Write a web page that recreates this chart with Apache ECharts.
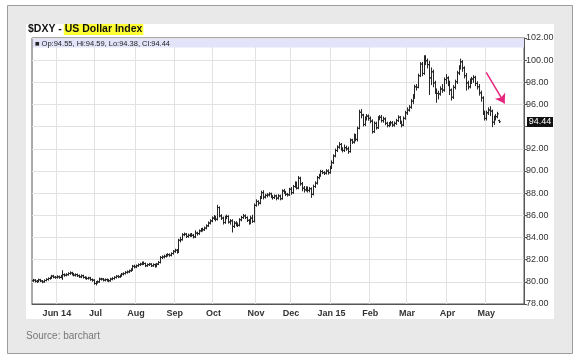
<!DOCTYPE html>
<html><head><meta charset="utf-8">
<script src="https://cdn.jsdelivr.net/npm/echarts@6/dist/echarts.min.js"></script>
<style>html,body{margin:0;padding:0;background:#fff}#c{width:582px;height:361px}</style>
</head><body><div id="c"></div>
<script>
// ---- data ----
const startDate = '2014-05-13';
const holidays = ['2014-05-26','2014-07-04','2014-09-01','2014-11-27','2014-12-25','2015-01-01','2015-04-03'];
const padDays = 13;
const monthLabels = ['Jun 14','Jul','Aug','Sep','Oct','Nov','Dec','Jan 15','Feb','Mar','Apr','May'];
const yMin = 78, yMax = 102, yStep = 2;
// daily bars: [open, close, low, high]
const ohlc = [
// May 2014 (13)
[80.10,80.15,80.02,80.22],[80.15,80.05,79.98,80.20],[80.05,80.03,79.94,80.12],[80.03,80.18,80.00,80.25],
[80.18,80.08,80.02,80.22],[80.08,80.00,79.92,80.12],[80.00,80.12,79.96,80.18],[80.12,80.22,80.08,80.28],
[80.22,80.30,80.15,80.36],[80.30,80.35,80.24,80.42],[80.35,80.52,80.30,80.58],[80.52,80.42,80.36,80.58],
[80.42,80.40,80.32,80.48],
// Jun 2014 (21)
[80.40,80.45,80.34,80.55],[80.45,80.40,80.32,80.52],[80.40,80.50,80.36,80.58],[80.50,80.65,80.22,81.00],
[80.65,80.60,80.50,80.72],[80.60,80.65,80.54,80.74],[80.65,80.75,80.60,80.82],[80.75,80.80,80.68,80.90],
[80.80,80.70,80.62,80.86],[80.70,80.60,80.54,80.76],[80.60,80.65,80.52,80.72],[80.65,80.55,80.48,80.70],
[80.55,80.45,80.40,80.62],[80.45,80.55,80.38,80.62],[80.55,80.40,80.34,80.60],[80.40,80.35,80.28,80.46],
[80.35,80.30,80.22,80.42],[80.30,80.35,80.24,80.42],[80.35,80.20,80.14,80.40],[80.20,80.15,80.06,80.26],
[80.15,79.85,79.78,80.20],
// Jul 2014 (22)
[79.85,79.95,79.72,80.02],[79.95,80.00,79.88,80.08],[80.00,80.25,79.96,80.34],[80.25,80.25,80.16,80.32],
[80.25,80.15,80.08,80.30],[80.15,80.20,80.08,80.26],[80.20,80.15,80.06,80.26],[80.15,80.10,80.02,80.20],
[80.10,80.25,80.06,80.32],[80.25,80.30,80.18,80.38],[80.30,80.40,80.24,80.46],[80.40,80.50,80.34,80.56],
[80.50,80.45,80.38,80.56],[80.45,80.55,80.40,80.62],[80.55,80.70,80.50,80.76],[80.70,80.75,80.62,80.82],
[80.75,80.85,80.70,80.92],[80.85,80.90,80.78,80.98],[80.90,81.00,80.84,81.06],[81.00,81.10,80.94,81.18],
[81.10,81.40,81.04,81.48],[81.40,81.35,81.26,81.50],
// Aug 2014 (21)
[81.35,81.45,81.28,81.52],[81.45,81.55,81.40,81.62],[81.55,81.60,81.48,81.68],[81.60,81.70,81.54,81.78],
[81.70,81.65,81.56,81.80],[81.65,81.45,81.38,81.70],[81.45,81.55,81.40,81.62],[81.55,81.60,81.48,81.66],
[81.60,81.45,81.38,81.64],[81.45,81.55,81.40,81.62],[81.55,81.40,81.32,81.60],[81.40,81.60,81.36,81.66],
[81.60,81.75,81.55,81.84],[81.75,82.20,81.70,82.28],[82.20,82.25,82.10,82.34],[82.25,82.30,82.16,82.40],
[82.30,82.40,82.24,82.48],[82.40,82.45,82.32,82.54],[82.45,82.40,82.30,82.52],[82.40,82.55,82.34,82.62],
[82.55,82.75,82.50,82.82],
// Sep 2014 (21)
[82.75,82.85,82.66,82.94],[82.85,82.70,82.58,82.92],[82.70,83.75,82.64,83.84],[83.75,83.80,83.60,84.02],
[83.80,84.25,83.76,84.34],[84.25,84.30,84.16,84.40],[84.30,84.10,84.00,84.36],[84.10,84.20,84.02,84.30],
[84.20,84.25,84.10,84.34],[84.25,84.20,84.10,84.36],[84.20,84.05,83.96,84.28],[84.05,84.40,84.00,84.60],
[84.40,84.35,84.22,84.48],[84.35,84.60,84.28,84.68],[84.60,84.75,84.52,84.82],[84.75,84.70,84.58,84.84],
[84.70,84.85,84.64,84.94],[84.85,85.05,84.78,85.14],[85.05,85.30,85.00,85.40],[85.30,85.50,85.22,85.60],
[85.50,85.75,85.42,85.86],
// Oct 2014 (23)
[85.75,85.85,85.62,85.98],[85.85,85.65,85.50,85.92],[85.65,86.70,85.58,86.90],[86.70,85.95,85.86,86.76],
[85.95,85.75,85.62,86.06],[85.75,85.35,85.22,85.84],[85.35,85.80,85.28,85.92],[85.80,85.90,85.70,86.02],
[85.90,85.40,85.30,85.96],[85.40,85.50,85.20,85.62],[85.50,85.00,84.50,85.60],[85.00,85.30,84.90,85.44],
[85.30,85.20,85.06,85.42],[85.20,85.10,84.98,85.30],[85.10,85.60,85.04,85.70],[85.60,85.80,85.50,85.90],
[85.80,85.95,85.72,86.08],[85.95,85.80,85.70,86.04],[85.80,85.55,85.44,85.86],[85.55,85.30,85.20,85.62],
[85.30,85.75,85.24,85.92],[85.75,85.45,85.36,86.00],[85.45,86.90,85.40,87.02],
// Nov 2014 (19)
[86.90,87.25,86.82,87.40],[87.25,87.10,86.92,87.32],[87.10,87.60,87.04,87.70],[87.60,88.05,87.52,88.18],
[88.05,87.65,87.48,88.22],[87.65,87.80,87.56,87.90],[87.80,87.85,87.66,87.96],[87.85,87.95,87.74,88.04],
[87.95,87.70,87.60,88.00],[87.70,87.60,87.46,87.78],[87.60,87.75,87.52,87.84],[87.75,87.55,87.40,87.82],
[87.55,87.75,87.46,87.86],[87.75,87.50,87.40,87.82],[87.50,88.20,87.46,88.30],[88.20,88.10,87.98,88.34],
[88.10,87.90,87.78,88.16],[87.90,87.85,87.74,87.98],[87.85,88.35,87.80,88.44],
// Dec 2014 (22)
[88.35,88.05,87.90,88.50],[88.05,88.60,87.98,88.70],[88.60,88.90,88.52,89.02],[88.90,88.45,88.38,89.00],
[88.45,89.35,88.40,89.50],[89.35,88.85,88.72,89.44],[88.85,88.45,88.22,88.96],[88.45,88.30,88.10,88.60],
[88.30,88.45,88.20,88.58],[88.45,88.25,88.10,88.56],[88.25,88.40,88.12,88.52],[88.40,87.90,87.62,88.48],
[87.90,88.60,87.84,88.72],[88.60,88.90,88.52,89.02],[88.90,89.40,88.82,89.50],[89.40,89.60,89.30,89.70],
[89.60,89.95,89.52,90.06],[89.95,89.85,89.76,90.04],[89.85,89.80,89.68,89.94],[89.80,90.00,89.72,90.12],
[90.00,89.85,89.72,90.10],[89.85,90.30,89.80,90.42],
// Jan 2015 (21)
[90.30,90.75,90.22,90.92],[90.75,91.35,90.68,91.46],[91.35,91.85,91.28,91.98],[91.85,92.15,91.76,92.28],
[92.15,92.40,92.06,92.56],[92.40,92.00,91.88,92.48],[92.00,91.85,91.72,92.10],[91.85,92.10,91.76,92.34],
[92.10,92.00,91.86,92.24],[92.00,91.75,91.60,92.16],[91.75,92.80,91.70,92.90],[92.80,92.60,92.48,92.86],
[92.60,93.20,92.52,93.34],[93.20,92.85,92.72,93.30],[92.85,93.85,92.70,93.96],[93.85,95.30,93.80,95.48],
[95.30,95.05,94.80,95.54],[95.05,94.20,94.06,95.12],[94.20,94.75,94.10,94.88],[94.75,94.95,94.60,95.10],
[94.95,94.75,94.58,95.06],
// Feb 2015 (20)
[94.75,94.50,94.36,94.88],[94.50,93.55,93.42,94.62],[93.55,94.30,93.48,94.44],[94.30,93.90,93.78,94.40],
[93.90,94.75,93.84,94.90],[94.75,94.85,94.62,95.00],[94.85,94.55,94.42,95.02],[94.55,94.70,94.40,94.86],
[94.70,94.30,94.18,94.80],[94.30,94.10,93.98,94.40],[94.10,94.25,94.00,94.38],[94.25,94.35,94.12,94.48],
[94.35,94.15,94.02,94.46],[94.15,94.30,94.04,94.42],[94.30,94.55,94.20,94.66],[94.55,94.85,94.46,94.98],
[94.85,94.40,94.28,94.92],[94.40,94.15,93.98,94.50],[94.15,94.75,94.08,94.88],[94.75,95.25,94.66,95.38],
// Mar 2015 (22)
[95.25,95.50,95.10,95.70],[95.50,95.75,95.40,95.90],[95.75,96.30,95.66,96.46],[96.30,96.65,96.10,96.90],
[96.65,97.60,96.55,97.74],[97.60,97.55,97.30,97.80],[97.55,98.60,97.50,98.74],[98.60,99.65,98.52,99.78],
[99.65,98.80,98.60,99.80],[98.80,100.25,98.72,100.40],[100.25,99.95,99.60,100.40],[99.95,99.60,99.30,100.10],
[99.60,98.40,96.90,99.90],[98.40,98.95,97.80,99.30],[98.95,97.95,97.60,99.10],[97.95,97.25,97.00,98.10],
[97.25,97.00,96.20,97.40],[97.00,96.95,96.50,97.20],[96.95,97.40,96.84,97.60],[97.40,97.30,97.10,97.80],
[97.30,98.25,97.20,98.40],[98.25,98.40,97.90,98.70],
// Apr 2015 (21)
[98.40,97.95,97.70,98.50],[97.95,97.30,96.90,98.10],[97.30,96.65,96.40,97.40],[96.65,97.55,96.55,97.70],
[97.55,98.05,97.40,98.20],[98.05,98.85,97.90,99.00],[98.85,99.35,98.70,99.50],[99.35,99.85,99.20,100.10],
[99.85,99.30,99.00,99.95],[99.30,98.60,98.40,99.40],[98.60,97.95,97.30,98.80],[97.95,97.60,97.40,98.10],
[97.60,98.10,97.50,98.30],[98.10,98.30,97.90,98.45],[98.30,98.45,98.00,98.60],[98.45,97.90,97.70,98.55],
[97.90,97.60,97.40,98.05],[97.60,97.05,96.85,97.80],[97.05,96.60,96.30,97.20],[96.60,95.30,95.10,96.70],
[95.30,94.75,94.60,95.40],
// May 2015 (8)
[94.75,95.25,94.60,95.40],[95.25,95.50,95.10,95.70],[95.50,95.40,95.00,95.80],[95.40,94.40,94.00,95.50],
[94.40,94.80,94.20,94.95],[94.80,94.90,94.60,95.10],[94.90,95.15,94.80,95.30],[94.55,94.44,94.38,94.59]
];
// annotation arrow (trading-day index, value)
const arrowFrom = [246, 98.9], arrowTo = [256, 96.1];
const titleParts = ['$DXY - ', 'US Dollar Index'];

// ---- build categories ----
const dates = [];
{ let d = new Date(startDate + 'T00:00:00Z');
  while (dates.length < ohlc.length + padDays) {
    const s = d.toISOString().slice(0, 10), w = d.getUTCDay();
    if (w !== 0 && w !== 6 && !holidays.includes(s)) dates.push(s);
    d.setUTCDate(d.getUTCDate() + 1);
  } }
const monthStart = new Map();
{ let k = 0;
  for (let i = 1; i < dates.length; i++) {
    if (dates[i].slice(5, 7) !== dates[i - 1].slice(5, 7)) { if (k < monthLabels.length) monthStart.set(i, monthLabels[k]); k++; }
  } }
const isMonth = (i) => monthStart.has(i);
const last = ohlc[ohlc.length - 1];
const FONT = '"Liberation Sans", Arial, sans-serif';
const TITLE_FONT = 'bold 10.5px ' + FONT;
const mctx = document.createElement('canvas').getContext('2d');
mctx.font = TITLE_FONT;
const titleW1 = mctx.measureText(titleParts[0]).width;

const chart = echarts.init(document.getElementById('c'), null, {renderer: 'canvas'});
const baseGraphics = [
  {type: 'rect', z: -10, shape: {x: 7.5, y: 5.5, width: 565, height: 348}, style: {fill: '#e9e9e9', stroke: '#9c9c9c', lineWidth: 1}},
  {type: 'rect', z: -9, shape: {x: 26, y: 24, width: 528, height: 295}, style: {fill: '#ffffff'}},
  {type: 'text', z: 5, left: 26, top: 331, style: {text: 'Source: barchart', fill: '#777', font: '10px ' + FONT}},
  {type: 'rect', z: 4, shape: {x: 28 + titleW1 - 1, y: 24, width: mctx.measureText(titleParts[1]).width + 2, height: 11}, style: {fill: '#ffff33'}},
  {type: 'text', z: 5, x: 28, y: 29.5, style: {text: titleParts[0] + titleParts[1], fill: '#111', font: TITLE_FONT, verticalAlign: 'middle'}}
];
chart.setOption({
  animation: false,
  grid: {left: 32, top: 38, right: 58, bottom: 57, show: true, backgroundColor: 'transparent', borderColor: '#555', borderWidth: 1},
  xAxis: {
    type: 'category', data: dates, boundaryGap: true,
    axisLine: {lineStyle: {color: '#555'}},
    axisTick: {interval: isMonth, length: 3, alignWithLabel: true, lineStyle: {color: '#555'}},
    axisLabel: {interval: isMonth, formatter: (v, i) => monthStart.get(i) || '', fontFamily: FONT, fontSize: 9, fontWeight: 'bold', color: '#333', margin: 5},
    splitLine: {show: true, interval: isMonth, lineStyle: {color: '#e2e2e2', width: 1}}
  },
  yAxis: {
    type: 'value', position: 'right', min: yMin, max: yMax, interval: yStep,
    axisLine: {show: true, lineStyle: {color: '#555'}},
    axisTick: {show: true, length: 3, lineStyle: {color: '#555'}},
    axisLabel: {formatter: (v) => (Math.abs(v - last[1]) < 1 ? '' : v.toFixed(2)), fontFamily: FONT, fontSize: 9, color: '#333', margin: 2},
    splitLine: {lineStyle: {color: '#e2e2e2'}}
  },
  series: [{
    type: 'custom',
    data: ohlc.map((r, i) => [i, r[0], r[1], r[2], r[3]]),
    encode: {x: 0, y: [1, 2, 3, 4]},
    renderItem: (params, api) => {
      const i = api.value(0);
      const pO = api.coord([i, api.value(1)]), pC = api.coord([i, api.value(2)]);
      const pL = api.coord([i, api.value(3)]), pH = api.coord([i, api.value(4)]);
      const x = Math.round(pO[0]) + 0.5;
      const st = {stroke: '#262626', lineWidth: 1};
      return {type: 'group', children: [
        {type: 'line', shape: {x1: x, y1: pH[1] - 0.5, x2: x, y2: pL[1] + 0.5}, style: st},
        {type: 'line', shape: {x1: x - 1.5, y1: pO[1], x2: x, y2: pO[1]}, style: st},
        {type: 'line', shape: {x1: x, y1: pC[1], x2: x + 1.5, y2: pC[1]}, style: st}
      ]};
    },
    markLine: {
      silent: true, animation: false, symbol: ['none', 'arrow'], symbolSize: 9,
      lineStyle: {color: '#e8257d', width: 1.5, type: 'solid'}, itemStyle: {color: '#e8257d'}, label: {show: false},
      data: [[{coord: [dates[arrowFrom[0]], arrowFrom[1]]}, {coord: [dates[arrowTo[0]], arrowTo[1]]}]]
    }
  }],
  graphic: baseGraphics
});
// header band and last-value tag, positioned from the grid/axis scales
const pTop = chart.convertToPixel({xAxisIndex: 0, yAxisIndex: 0}, [0, yMax]);
const gridLeft = 32, gridRight = 582 - 58;
const yLast = chart.convertToPixel({yAxisIndex: 0}, last[1]);
chart.setOption({graphic: baseGraphics.concat([
  {type: 'rect', z: 1, shape: {x: gridLeft + 1, y: pTop[1] + 1, width: gridRight - gridLeft - 1, height: 8.5}, style: {fill: '#e3e3f9'}},
  {type: 'text', z: 6, left: gridLeft + 3, top: pTop[1] + 1.5,
   style: {text: '\u25A0 Op:' + last[0].toFixed(2) + ', Hi:' + last[3].toFixed(2) + ', Lo:' + last[2].toFixed(2) + ', Cl:' + last[1].toFixed(2), fill: '#222', font: '7.5px ' + FONT}},
  {type: 'rect', z: 6, shape: {x: gridRight + 3, y: Math.round(yLast) - 5, width: 26, height: 10}, style: {fill: '#111'}},
  {type: 'text', z: 7, x: gridRight + 16, y: Math.round(yLast), style: {text: last[1].toFixed(2), fill: '#fff', font: '9px ' + FONT, align: 'center', verticalAlign: 'middle'}}
])});
</script></body></html>
